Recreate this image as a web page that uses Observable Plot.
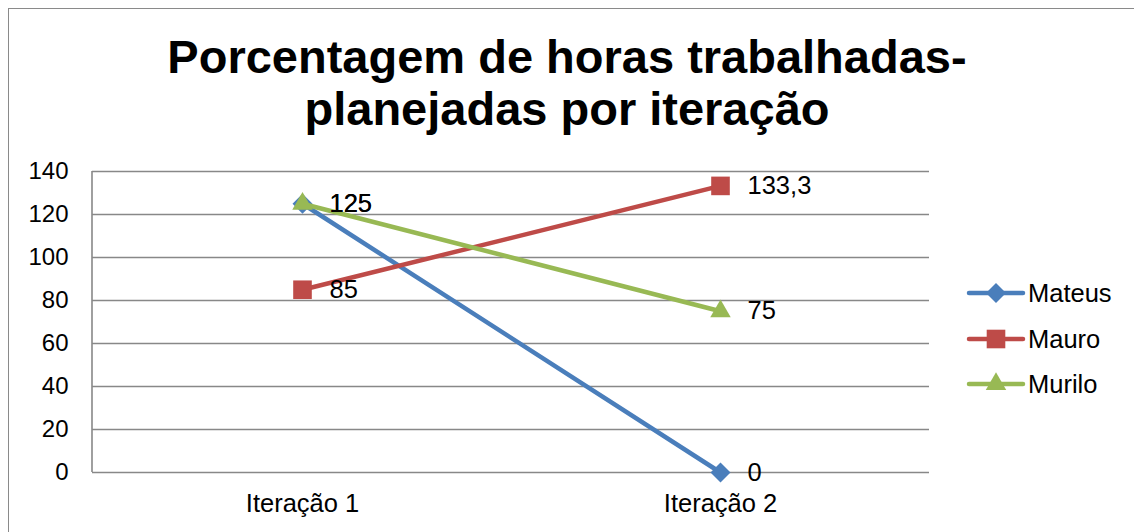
<!DOCTYPE html>
<html>
<head>
<meta charset="utf-8">
<script src="https://cdn.jsdelivr.net/npm/d3@7"></script>
<script src="https://cdn.jsdelivr.net/npm/@observablehq/plot@0.6"></script>
<style>
  html, body { margin: 0; padding: 0; background: #fff; overflow: hidden; }
  #wrap { position: relative; width: 1134px; height: 532px; overflow: hidden; font-family: "Liberation Sans", Arial, sans-serif; }
  #border { position: absolute; left: 8px; top: 8px; width: 1300px; height: 700px; border: 1.5px solid #8a8a8a; box-sizing: border-box; }
  #title { position: absolute; left: 0; width: 1134px; top: 31px; text-align: center; font-weight: bold; font-size: 47px; line-height: 52px; color: #000; }
  #chart { position: absolute; left: 0; top: 0; }
  #legend { position: absolute; left: 966px; top: 0; }
  .item { position: absolute; left: 0; height: 30px; display: flex; align-items: center; font-size: 25.5px; color: #000; white-space: nowrap; }
  .item svg { margin-right: 2px; }
</style>
</head>
<body>
<div id="wrap">
  <div id="border"></div>
  <div id="chart"></div>
  <div id="title">Porcentagem de horas trabalhadas-<br>planejadas por iteração</div>
  <div id="legend"></div>
</div>
<script>
const categories = ["Iteração 1", "Iteração 2"];
const seriesNames = ["Mateus", "Mauro", "Murilo"];
const mateus = [125, 0];
const mauro = [85, 133.3];
const murilo = [125, 75];
const seriesColors = ["#4a7ebb", "#be4b48", "#98b954"];
const seriesSymbols = ["diamond2", "square", "triangle"];
const seriesR = [9, 10.5, 7.6];
const yTicks = [0, 20, 40, 60, 80, 100, 120, 140];

const values = [mateus, mauro, murilo];
const table = [];
seriesNames.forEach((s, i) => categories.forEach((c, j) => table.push({series: s, cat: c, value: values[i][j]})));
const fmt = v => String(v).replace(".", ",");

const gridColor = "#888888";
const marks = [
  Plot.gridY(yTicks, {stroke: gridColor, strokeOpacity: 1, strokeWidth: 1.6}),
  (index, scales, vals, dims) => {
    const l = document.createElementNS("http://www.w3.org/2000/svg", "line");
    const x = dims.marginLeft;
    l.setAttribute("x1", x); l.setAttribute("x2", x);
    l.setAttribute("y1", scales.y(140)); l.setAttribute("y2", scales.y(0));
    l.setAttribute("stroke", gridColor); l.setAttribute("stroke-width", 1.6);
    return l;
  },
  Plot.axisY({ticks: yTicks, tickSize: 0, tickPadding: 24, fontSize: 24, label: null}),
  Plot.axisX({tickSize: 0, tickPadding: 21, fontSize: 25.5, label: null})
];
seriesNames.forEach((s, i) => {
  const d = table.filter(r => r.series === s);
  marks.push(Plot.line(d, {x: "cat", y: "value", stroke: seriesColors[i], strokeWidth: 4.5}));
  marks.push(Plot.dot(d, {x: "cat", y: "value", symbol: seriesSymbols[i], r: seriesR[i], fill: seriesColors[i], stroke: "none"}));
});
marks.push(Plot.text(table, {x: "cat", y: "value", text: d => fmt(d.value), dx: 27, textAnchor: "start", fontSize: 25.5, fill: "#000"}));

const chart = Plot.plot({
  width: 1134,
  height: 532,
  marginLeft: 92,
  marginRight: 205,
  marginTop: 171,
  marginBottom: 60,
  style: {background: "transparent", color: "#000", fontFamily: "'Liberation Sans', Arial, sans-serif"},
  x: {type: "point", domain: categories, padding: 0.5, axis: null},
  y: {domain: [0, 140], axis: null},
  marks
});
document.getElementById("chart").appendChild(chart);

// legend
const legend = document.getElementById("legend");
const legendTop = [278, 324, 369];
seriesNames.forEach((s, i) => {
  const item = document.createElement("div");
  item.className = "item";
  item.style.top = legendTop[i] + "px";
  const sym = d3.symbol(d3[{diamond2: "symbolDiamond2", square: "symbolSquare", triangle: "symbolTriangle"}[seriesSymbols[i]]], seriesR[i] * seriesR[i] * Math.PI)();
  item.innerHTML = `<svg width="60" height="30"><line x1="3" x2="57" y1="15" y2="15" stroke="${seriesColors[i]}" stroke-width="4.5" stroke-linecap="round"/><path d="${sym}" transform="translate(30,15)" fill="${seriesColors[i]}"/></svg><span>${s}</span>`;
  legend.appendChild(item);
});
</script>
</body>
</html>
